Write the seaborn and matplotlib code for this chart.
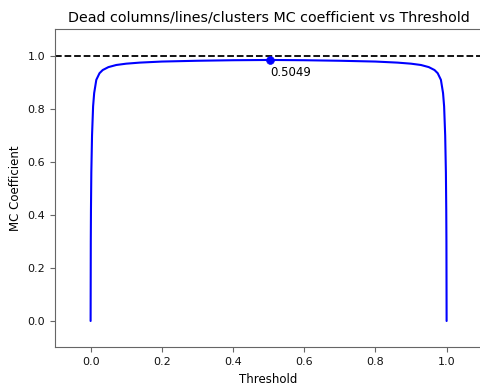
import pandas as pd
import matplotlib.pyplot as plt
import seaborn as sns

# MC coefficient at each threshold
thresholds = [0.0, 0.0005, 0.001, 0.002, 0.004, 0.007, 0.01, 0.016, 0.025, 0.034,
              0.05, 0.072, 0.1, 0.138, 0.2, 0.3, 0.4, 0.5049, 0.6, 0.7, 0.8,
              0.862, 0.9, 0.928, 0.95, 0.966, 0.975, 0.984, 0.99, 0.993,
              0.996, 0.998, 0.999, 0.9995, 1.0]
mc_values = [0.0, 0.3, 0.42, 0.56, 0.7, 0.81, 0.86, 0.91, 0.935, 0.947,
             0.958, 0.966, 0.971, 0.975, 0.979, 0.982, 0.984, 0.985, 0.984, 0.982, 0.979,
             0.975, 0.971, 0.966, 0.958, 0.947, 0.935, 0.91, 0.86, 0.81,
             0.7, 0.56, 0.42, 0.3, 0.0]
best_threshold = 0.5049
best_mc = 0.985
ideal_mc = 1.0

df = pd.DataFrame({'Threshold': thresholds, 'MC': mc_values})

sns.set_style('ticks', {'axes.edgecolor': '#666666', 'xtick.color': '#666666',
                        'ytick.color': '#666666', 'text.color': 'black',
                        'axes.labelcolor': 'black'})
plt.rcParams['font.family'] = ['DejaVu Sans']

fig = plt.figure(figsize=(4.8, 3.89), dpi=100)
ax = fig.add_axes([0.1146, 0.1067, 0.89, 0.8175])

sns.lineplot(data=df, x='Threshold', y='MC', color='blue', linewidth=1.5,
             estimator=None, sort=False, ax=ax)
ax.axhline(ideal_mc, color='black', linestyle='--', linewidth=1.3)
sns.scatterplot(x=[best_threshold], y=[best_mc], color='blue', s=32,
                edgecolor='blue', zorder=5, ax=ax)
ax.annotate(f'{best_threshold:.4f}', xy=(best_threshold, best_mc),
            xytext=(0, -4), textcoords='offset points', ha='left', va='top',
            fontsize=8.5, color='black')

ax.set_xlim(-0.1, 1.1)
ax.set_ylim(-0.1, 1.1)
ax.set_xticks([0.0, 0.2, 0.4, 0.6, 0.8, 1.0])
ax.set_yticks([0.0, 0.2, 0.4, 0.6, 0.8, 1.0])
ax.spines['right'].set_visible(False)
ax.tick_params(labelsize=8, labelcolor='#111111')
ax.set_xlabel('Threshold', fontsize=8.5, color='black')
ax.set_ylabel('MC Coefficient', fontsize=8.5, color='black')
ax.set_title('Dead columns/lines/clusters MC coefficient vs Threshold',
             fontsize=10.3, color='black')

fig.savefig('out.png', dpi=100)
